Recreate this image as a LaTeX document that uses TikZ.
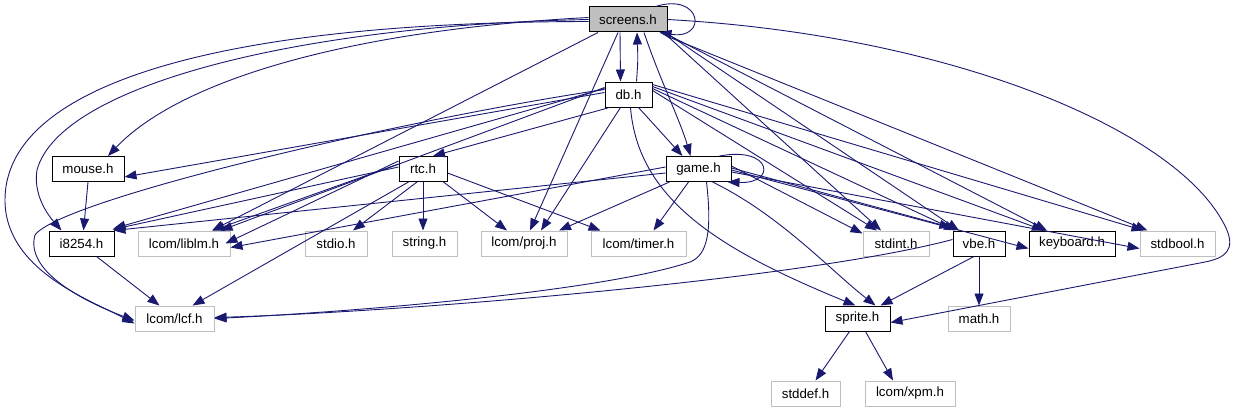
\documentclass[tikz,border=0pt]{standalone}
\usepackage{fontspec}
\setmainfont{Liberation Sans}
\usetikzlibrary{arrows.meta}
\definecolor{edgec}{HTML}{191970}
\definecolor{grayb}{HTML}{BFBFBF}
\tikzset{
  box/.style={draw=black, line width=1pt, fill=white, minimum height=25pt, inner sep=0pt, font=\fontsize{13.3}{16}\selectfont},
  sysbox/.style={box, draw=grayb},
  mainbox/.style={box, fill=grayb},
  inc/.style={draw=edgec, line width=0.9pt, -{Triangle[length=12pt,width=9pt]}, edgec},
}
\begin{document}
\begin{tikzpicture}[x=1pt,y=-1pt]
\useasboundingbox (0,0) rectangle (1238,412);
% nodes
\node[mainbox, minimum width=78pt] (screens) at (628,19.5) {screens.h};
\node[box, minimum width=47pt] (db) at (628.5,94.5) {db.h};
\node[box, minimum width=72pt] (mouse) at (88,169) {mouse.h};
\node[box, minimum width=48pt] (rtc) at (423,169) {rtc.h};
\node[box, minimum width=65pt] (game) at (698.5,169) {game.h};
\node[box, minimum width=65pt] (i8254) at (81.5,243.5) {i8254.h};
\node[sysbox, minimum width=92pt] (liblm) at (184,243.5) {lcom/liblm.h};
\node[sysbox, minimum width=62pt] (stdio) at (336,243.5) {stdio.h};
\node[sysbox, minimum width=65pt] (string) at (424.5,243.5) {string.h};
\node[sysbox, minimum width=86pt] (proj) at (524,243.5) {lcom/proj.h};
\node[sysbox, minimum width=95pt] (timer) at (638.5,243.5) {lcom/timer.h};
\node[sysbox, minimum width=66pt] (stdint) at (896,243.5) {stdint.h};
\node[box, minimum width=52pt] (vbe) at (979,243.5) {vbe.h};
\node[box, minimum width=86pt] (keyboard) at (1072,243.5) {keyboard.h};
\node[sysbox, minimum width=75pt] (stdbool) at (1177.5,243.5) {stdbool.h};
\node[sysbox, minimum width=79pt] (lcf) at (174.5,318.5) {lcom/lcf.h};
\node[box, minimum width=65pt] (sprite) at (857.5,318.5) {sprite.h};
\node[sysbox, minimum width=62pt] (math) at (979,318.5) {math.h};
\node[sysbox, minimum width=69pt] (stddef) at (805.5,393.5) {stddef.h};
\node[sysbox, minimum width=90pt] (xpm) at (910,393.5) {lcom/xpm.h};

% screens edges
\draw[inc] ([xshift=-8pt]screens.south) -- ([xshift=-8pt]db.north);
\draw[inc] ([xshift=8pt]db.north) .. controls (638,60) .. ([xshift=9pt]screens.south);
\draw[inc] ([xshift=-12pt]screens.north east) .. controls (702,-8) and (708,40) .. ([xshift=-8pt]screens.south east);
\draw[inc] ([xshift=16pt]screens.south) .. controls (660,80) and (680,120) .. ([xshift=-8pt]game.north);
\draw[inc] ([xshift=-10pt]screens.south) -- ([xshift=6pt]proj.north);
\draw[inc] ([xshift=-30pt]screens.south) -- ([xshift=28pt]liblm.north);
\draw[inc] ([yshift=2pt]screens.west) .. controls (350,30) and (180,80) .. ([xshift=20pt]mouse.north);
\draw[inc] ([yshift=0pt]screens.west) .. controls (300,25) and (60,85) .. (37,170) .. controls (33,195) and (48,215) .. ([xshift=-20pt]i8254.north);
\draw[inc] ([yshift=-2pt]screens.west) .. controls (200,22) and (5,90) .. (5,200) .. controls (5,270) and (90,300) .. ([yshift=-5pt]lcf.west);
\draw[inc] ([xshift=-4pt]screens.south east) -- ([xshift=-15pt]stdint.north);
\draw[inc] ([xshift=-2pt]screens.south east) -- ([xshift=-20pt]vbe.north);
\draw[inc] ([yshift=-2pt]screens.south east) -- ([xshift=-25pt]keyboard.north);
\draw[inc] ([yshift=-4pt]screens.south east) -- ([xshift=-30pt]stdbool.north);
\draw[inc] (screens.east) .. controls (950,35) and (1180,130) .. (1226,228) .. controls (1236,250) and (1225,258) .. (1205,262) -- ([yshift=-4pt]sprite.east);

% db edges
\draw[inc] ([yshift=2pt]db.west) -- ([yshift=-8pt]mouse.east);
\draw[inc] ([yshift=5pt]db.west) .. controls (400,120) and (60,200) .. (35,235) .. controls (25,270) and (80,300) .. ([yshift=-2pt]lcf.west);
\draw[inc] ([yshift=6pt]db.west) -- ([xshift=-1pt,yshift=2pt]i8254.north east);
\draw[inc] ([yshift=7pt]db.west) -- ([xshift=-10pt]liblm.north east);
\draw[inc] ([xshift=5pt]db.south west) -- ([xshift=10pt]rtc.north);
\draw[inc] ([xshift=-8pt]db.south) -- ([xshift=17pt]proj.north);
\draw[inc] ([xshift=10pt]db.south) -- ([xshift=-16pt]game.north);
\draw[inc] ([xshift=2pt]db.south) .. controls (638,200) and (720,250) .. ([xshift=-35pt]sprite.north east);
\draw[inc] ([yshift=4pt]db.east) -- ([xshift=-19pt]stdint.north);
\draw[inc] ([yshift=6pt]db.east) -- ([xshift=-23pt]vbe.north);
\draw[inc] ([yshift=8pt]db.east) -- ([xshift=-28pt]keyboard.north);
\draw[inc] ([yshift=10pt]db.east) -- ([xshift=-34pt]stdbool.north);

% rtc edges
\draw[inc] ([yshift=2pt]rtc.west) -- ([xshift=-2pt,yshift=1pt]i8254.north east);
\draw[inc] ([yshift=5pt]rtc.west) -- ([xshift=-18pt]liblm.north east);
\draw[inc] ([yshift=8pt]rtc.west) -- ([xshift=-5pt]liblm.east);
\draw[inc] ([xshift=10pt]rtc.south west) -- ([xshift=18pt]lcf.north);
\draw[inc] ([xshift=-6pt]rtc.south) -- ([xshift=17pt]stdio.north);
\draw[inc] (rtc.south) -- ([xshift=-1.5pt]string.north);
\draw[inc] ([xshift=-4pt]rtc.south east) -- ([xshift=-17pt]proj.north);
\draw[inc] ([yshift=-4pt]rtc.east) -- ([xshift=-38pt]timer.north);

% game edges
\draw[inc] ([yshift=-4pt]game.west) -- ([xshift=-1pt]i8254.north east);
\draw[inc] ([yshift=2pt]game.west) -- ([yshift=-4pt]liblm.east);
\draw[inc] ([xshift=4pt]game.south west) -- ([xshift=35pt]proj.north);
\draw[inc] ([xshift=-10pt]game.south) -- ([xshift=15pt]timer.north);
\draw[inc] ([xshift=8pt]game.south) .. controls (712,230) and (708,255) .. (690,262) .. controls (600,292) and (350,312) .. (lcf.east);
\draw[inc] ([xshift=-12pt]game.north east) .. controls (772,146) and (777,184) .. ([xshift=-4pt]game.south east);
\draw[inc] ([xshift=14pt]game.south) .. controls (780,215) and (830,270) .. ([xshift=-15pt]sprite.north east);
\draw[inc] ([yshift=3pt]game.east) -- ([yshift=-3pt]stdint.north west);
\draw[inc] ([yshift=1pt]game.east) -- ([yshift=3pt,xshift=-1pt]vbe.north west);
\draw[inc] ([yshift=-1pt]game.east) -- ([yshift=-5pt]keyboard.west);
\draw[inc] ([yshift=-3pt]game.east) -- ([yshift=-5pt]stdbool.west);

% others
\draw[inc] (mouse.south) -- ([xshift=2pt]i8254.north);
\draw[inc] ([xshift=15pt]i8254.south) -- ([xshift=-15pt]lcf.north);
\draw[inc] ([yshift=4pt]vbe.west) .. controls (800,280) and (400,312) .. ([yshift=1pt]lcf.east);
\draw[inc] ([xshift=-5pt]vbe.south) -- ([xshift=-10pt]sprite.north east);
\draw[inc] (vbe.south) -- (math.north);
\draw[inc] ([xshift=-8pt]sprite.south) -- ([xshift=10pt]stddef.north);
\draw[inc] ([xshift=8pt]sprite.south) -- ([xshift=-17pt]xpm.north);
\end{tikzpicture}
\end{document}
